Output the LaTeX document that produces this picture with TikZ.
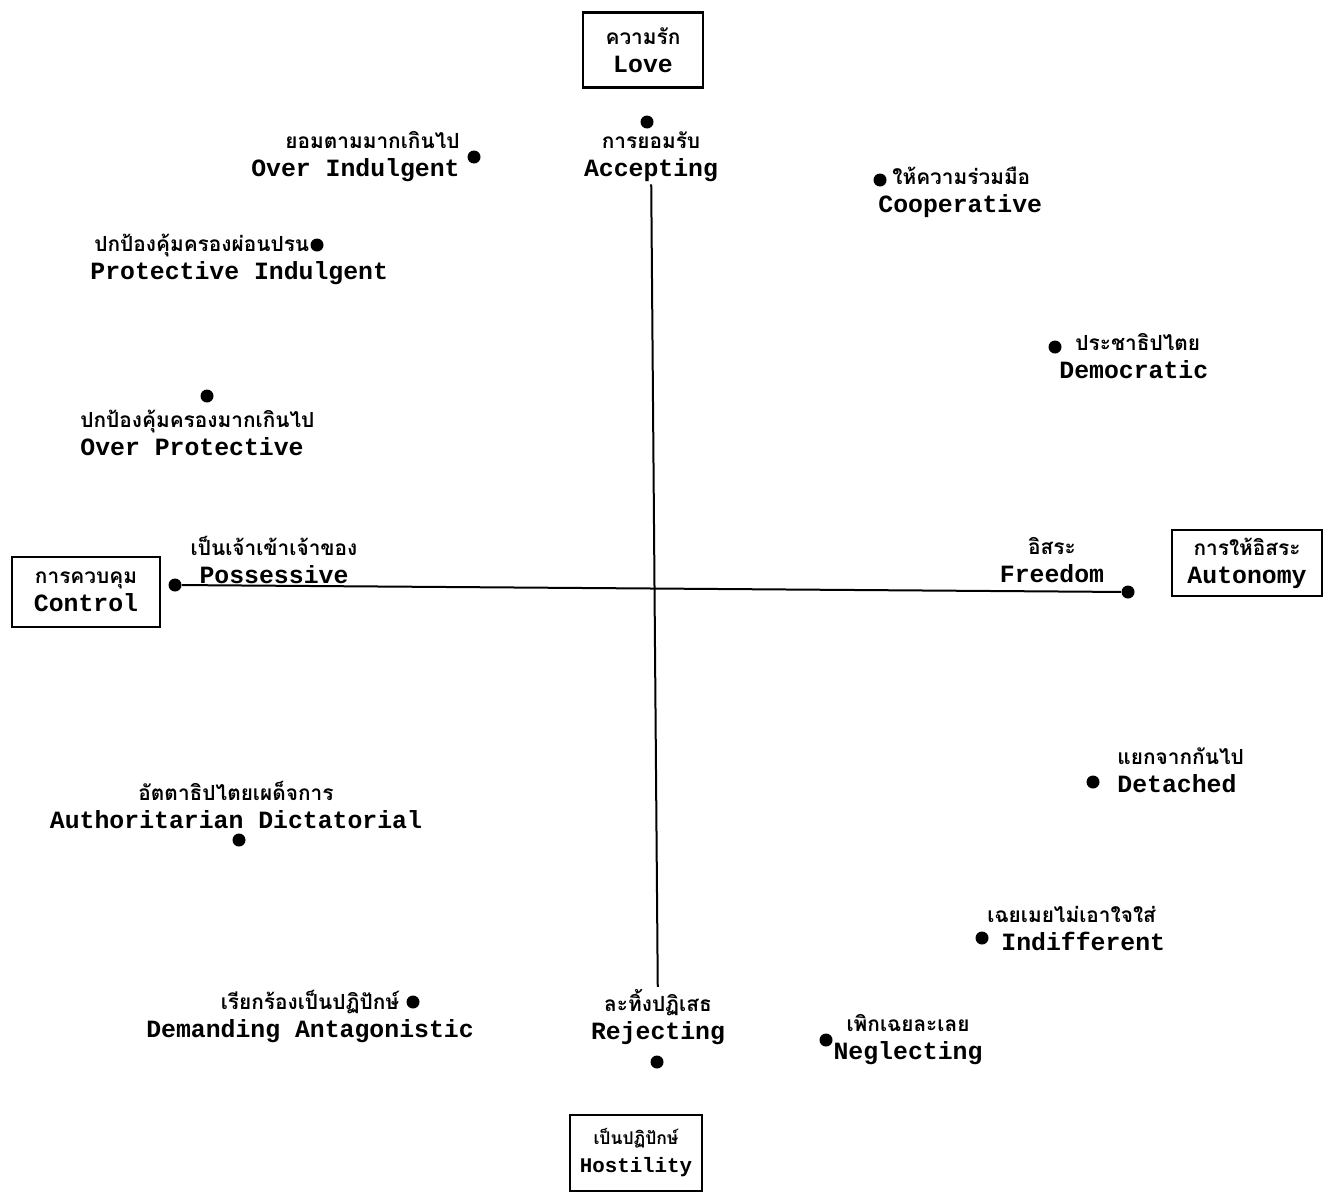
\documentclass[tikz,border=0pt]{standalone}
\usepackage{fontspec}
\setmonofont{Liberation Mono}
\newfontfamily\thaifont[Script=Thai,Scale=0.84]{Loma}
\usepackage{xcolor}
\usepackage{tikz}
\usetikzlibrary{positioning}

\begin{document}
\begin{tikzpicture}[x=0.5pt, y=-0.5pt,
    box/.style={draw, line width=1.2pt, align=center, inner sep=0pt,
                font=\fontsize{12.4}{14}\selectfont\ttfamily\bfseries},
    lbl/.style={align=center, inner sep=1pt,
                font=\fontsize{12.4}{14}\selectfont\ttfamily\bfseries},
    dot/.style={circle, fill=black, inner sep=0pt, minimum size=6.5pt},
    axis/.style={line width=1pt}]
  \useasboundingbox (0,0) rectangle (1331,1194);

  % the four poles
  \node[box, minimum width=60pt, minimum height=37.5pt] (love) at (643,50) {{\thaifont ความรัก}\\Love};
  \node[box, minimum width=74pt, minimum height=35pt] (control) at (86,592) {{\thaifont การควบคุม}\\Control};
  \node[box, minimum width=75pt, minimum height=33pt] (autonomy) at (1247,563) {{\thaifont การให้อิสระ}\\Autonomy};
  \node[box, minimum width=66pt, minimum height=38pt,
        font=\fontsize{10.4}{14}\selectfont\ttfamily\bfseries] (hostility) at (636,1153) {{\thaifont เป็นปฏิปักษ์}\\Hostility};

  % points
  \node[dot] (acc) at (647,122) {};
  \node[dot] (ovind) at (474,157) {};
  \node[dot] (coop) at (880,180) {};
  \node[dot] (protind) at (317,245) {};
  \node[dot] (demo) at (1055,347) {};
  \node[dot] (ovprot) at (207,396) {};
  \node[dot] (ctrl) at (175,585) {};
  \node[dot] (free) at (1128,592) {};
  \node[dot] (det) at (1093,782) {};
  \node[dot] (auth) at (239,840) {};
  \node[dot] (indif) at (982,938) {};
  \node[dot] (demand) at (413,1002) {};
  \node[dot] (negl) at (826,1040) {};
  \node[dot] (rej) at (657,1062) {};

  % labels
  \node[lbl] (acclbl) at (651,157) {{\thaifont การยอมรับ}\\Accepting};
  \node[lbl, align=right, anchor=east] (ovindlbl) at (462,157) {{\thaifont ยอมตามมากเกินไป}\\Over Indulgent};
  \node[lbl, align=left, anchor=west] (cooplbl) at (876,192) {\hspace*{7pt}{\thaifont ให้ความร่วมมือ}\\Cooperative};
  \node[lbl, align=left, anchor=west] (protindlbl) at (88,259) {\hspace*{2pt}{\thaifont ปกป้องคุ้มครองผ่อนปรน}\\Protective Indulgent};
  \node[lbl, align=left, anchor=west] (demolbl) at (1057,356) {\hspace*{8pt}{\thaifont ประชาธิปไตย}\\Democratic};
  \node[lbl, align=left, anchor=west] (ovprotlbl) at (78,433) {{\thaifont ปกป้องคุ้มครองมากเกินไป}\\Over Protective};
  \node[lbl] (posslbl) at (274,560) {{\thaifont เป็นเจ้าเข้าเจ้าของ}\\Possessive};
  \node[lbl] (freelbl) at (1052,560) {{\thaifont อิสระ}\\Freedom};
  \node[lbl, align=left, anchor=west] (detlbl) at (1115,770) {{\thaifont แยกจากกันไป}\\Detached};
  \node[lbl] (authlbl) at (236,805) {{\thaifont อัตตาธิปไตยเผด็จการ}\\Authoritarian Dictatorial};
  \node[lbl, align=left, anchor=west] (indiflbl) at (985,929) {{\thaifont เฉยเมยไม่เอาใจใส่}\\\hspace*{7pt}Indifferent};
  \node[lbl] (demandlbl) at (310,1016) {{\thaifont เรียกร้องเป็นปฏิปักษ์}\\Demanding Antagonistic};
  \node[lbl] (rejlbl) at (658,1017) {{\thaifont ละทิ้งปฏิเสธ}\\Rejecting};
  \node[lbl] (negllbl) at (908,1040) {{\thaifont เพิกเฉยละเลย}\\Neglecting};

  % axes
  \draw[axis] (acclbl) -- (rejlbl);
  \draw[axis] (ctrl) -- (free);
\end{tikzpicture}
\end{document}
